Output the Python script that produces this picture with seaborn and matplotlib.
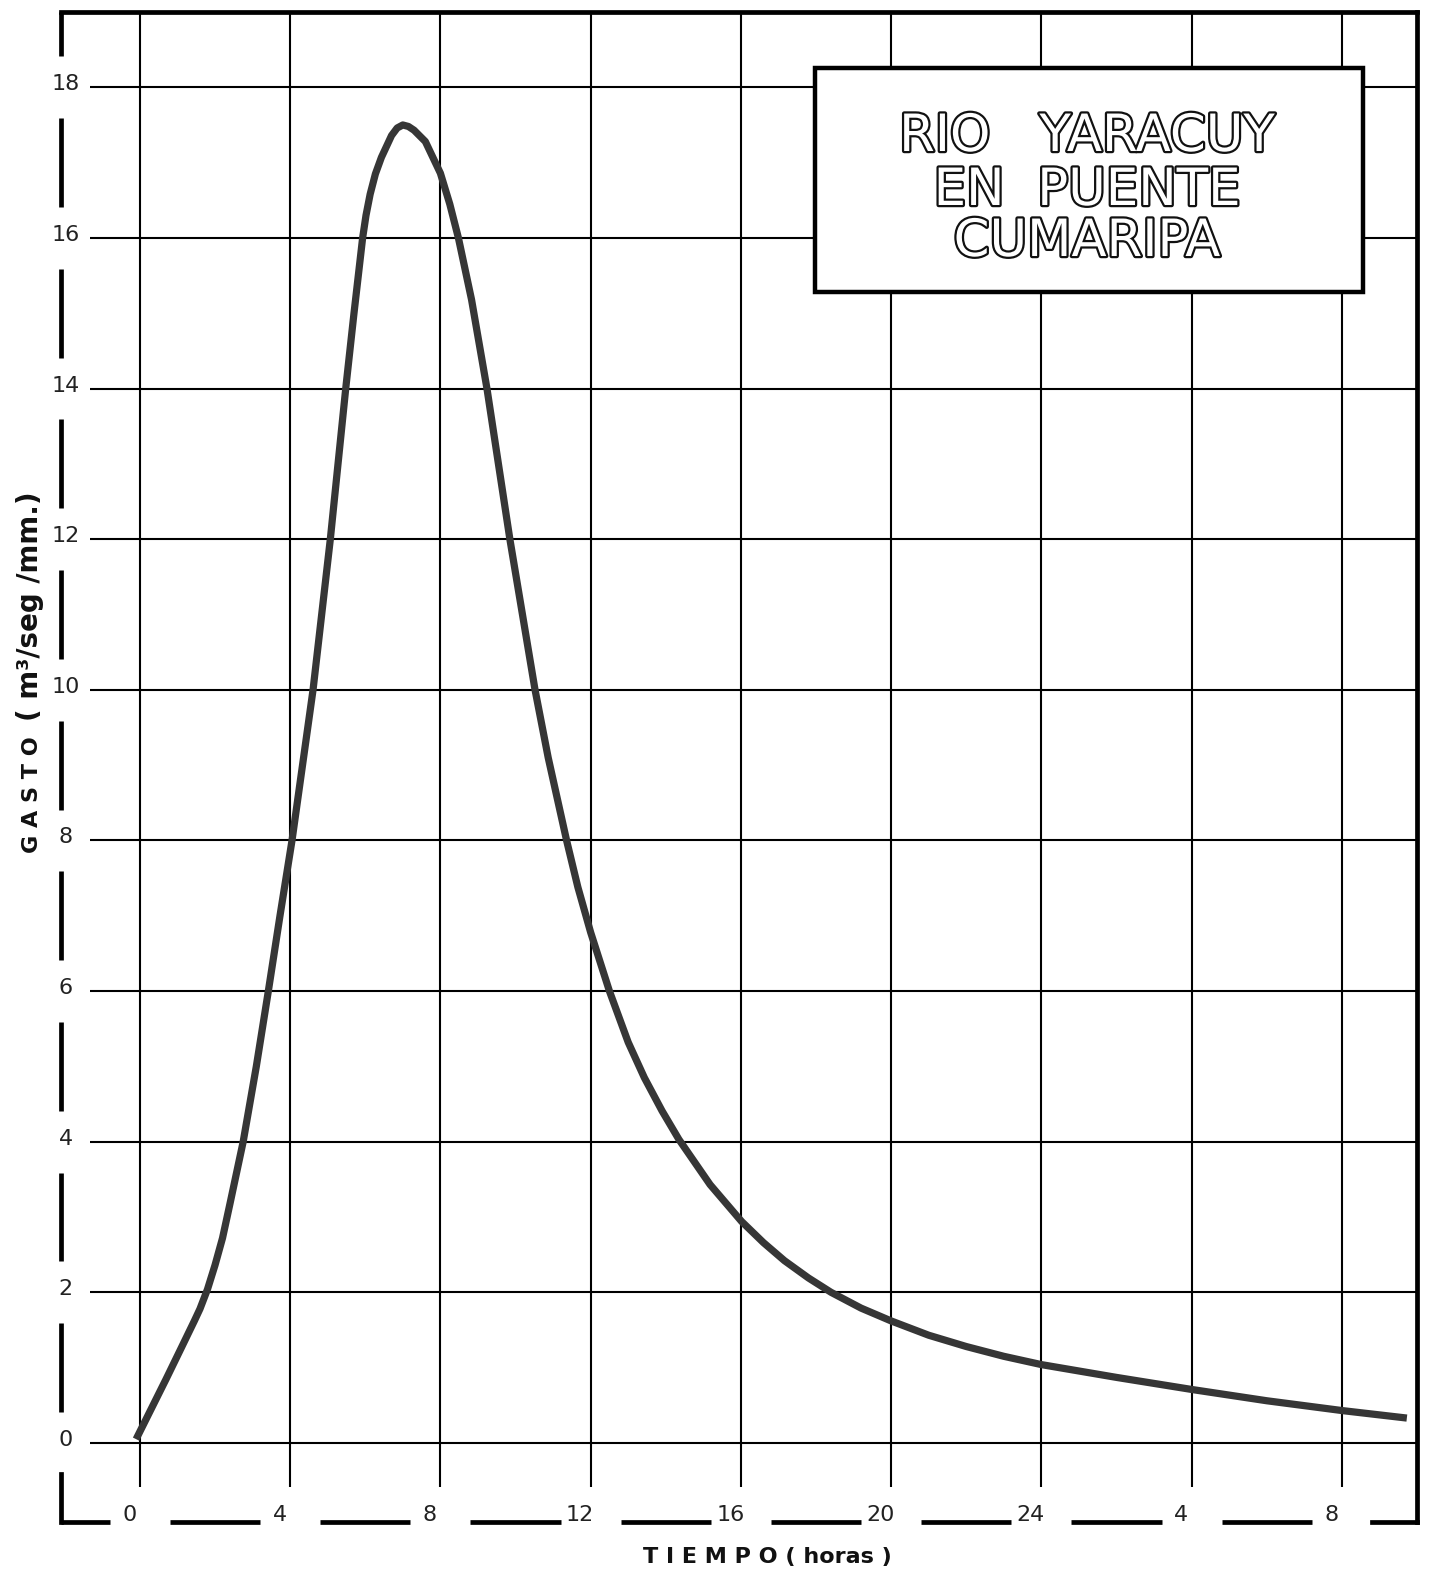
import matplotlib
matplotlib.use("Agg")
import matplotlib.pyplot as plt
import matplotlib.patheffects as pe
from matplotlib.patches import Rectangle
import seaborn as sns

# ---- data ----
hours = [-0.10, 0.30, 0.70, 1.10, 1.45, 1.60, 1.80, 2.00, 2.20, 2.40, 2.75, 3.10, 3.42,
         3.73, 4.05, 4.33, 4.61, 5.07, 5.48, 5.70, 5.93, 6.02, 6.13, 6.27, 6.43,
         6.70, 6.85, 7.00, 7.15, 7.30, 7.60, 8.00, 8.25, 8.48, 8.83, 9.24, 9.85,
         10.52, 10.87, 11.36, 11.66, 12.00, 12.50, 13.00, 13.43, 13.90, 14.35,
         15.18, 16.02, 16.60, 17.16, 17.80, 18.40, 19.20, 20.00, 21.00, 22.00,
         23.00, 24.00, 26.00, 28.00, 30.00, 32.00, 33.73]
gasto = [0.05, 0.45, 0.85, 1.26, 1.62, 1.78, 2.04, 2.36, 2.72, 3.18, 4.00, 5.00, 6.00,
         7.00, 8.00, 9.00, 10.00, 12.00, 14.00, 15.00, 16.00, 16.30, 16.58, 16.85, 17.07,
         17.36, 17.46, 17.50, 17.48, 17.43, 17.28, 16.86, 16.45, 16.00, 15.18, 14.00, 12.00,
         10.00, 9.10, 8.00, 7.38, 6.78, 6.00, 5.32, 4.85, 4.41, 4.03,
         3.43, 2.94, 2.66, 2.42, 2.19, 2.00, 1.79, 1.62, 1.43, 1.28,
         1.15, 1.04, 0.87, 0.71, 0.56, 0.43, 0.33]

x_ticks = [0, 4, 8, 12, 16, 20, 24, 28, 32]
x_tick_labels = ["0", "4", "8", "12", "16", "20", "24", "4", "8"]
y_ticks = [0, 2, 4, 6, 8, 10, 12, 14, 16, 18]
y_tick_labels = ["0", "2", "4", "6", "8", "10", "12", "14", "16", "18"]
title_lines = ["RIO   YARACUY", "EN  PUENTE", "CUMARIPA"]
x_label = "T I E M P O ( horas )"
y_label_name = "G A S T O"
y_label_unit = "( m³/seg /mm.)"

sns.set_style("white")
plt.rcParams['font.family'] = ['DejaVu Sans']

W, H = 1438, 1576
fig = plt.figure(figsize=(W / 100, H / 100), dpi=100)
fig.patch.set_facecolor("white")

L, R, T, B = 61, 1417, 12, 1522
ax = fig.add_axes([L / W, 1 - B / H, (R - L) / W, (B - T) / H])
XMIN, XMAX = -2.10, 34.0
YMIN, YMAX = -1.05, 19.0
ax.set_xlim(XMIN, XMAX)
ax.set_ylim(YMIN, YMAX)
ax.axis("off")

ink = "black"
# grid
ax.hlines(y_ticks, -1.33, XMAX, color=ink, lw=1.5, zorder=1)
ax.vlines(x_ticks, -0.58, YMAX, color=ink, lw=1.5, zorder=1)

# frame: top and right solid
fw = 3.4
ax.plot([XMIN, XMAX], [YMAX, YMAX], color=ink, lw=fw, clip_on=False,
        solid_capstyle="projecting", zorder=4)
ax.plot([XMAX, XMAX], [YMIN, YMAX], color=ink, lw=fw, clip_on=False,
        solid_capstyle="projecting", zorder=4)

# left frame: dashes interrupted at tick labels
gy = 0.41
start = YMAX
for v in sorted(y_ticks, reverse=True):
    ax.plot([XMIN, XMIN], [start, v + gy], color=ink, lw=fw, clip_on=False,
            solid_capstyle="butt", zorder=4)
    start = v - gy
ax.plot([XMIN, XMIN], [start, YMIN], color=ink, lw=fw, clip_on=False,
        solid_capstyle="projecting", zorder=4)

# bottom frame: dashes interrupted at tick labels
gx = 0.80
start = XMIN
for t in x_ticks:
    ax.plot([start, t - gx], [YMIN, YMIN], color=ink, lw=fw, clip_on=False,
            solid_capstyle="butt", zorder=4)
    start = t + gx
ax.plot([start, XMAX], [YMIN, YMIN], color=ink, lw=fw, clip_on=False,
        solid_capstyle="projecting", zorder=4)

# tick labels
for v, lab in zip(y_ticks, y_tick_labels):
    ax.text(XMIN + 0.12, v + 0.04, lab, ha="center", va="center", fontsize=16,
            color="#222222", clip_on=False, zorder=5)
for t, lab in zip(x_ticks, x_tick_labels):
    ax.text(t - 0.28, YMIN + 0.09, lab, ha="center", va="center", fontsize=16,
            color="#222222", clip_on=False, zorder=5)

# the hydrograph
sns.lineplot(x=hours, y=gasto, ax=ax, color="#363636", linewidth=5.2,
             sort=False, estimator=None, zorder=3, solid_capstyle="butt",
             solid_joinstyle="round")

# axis titles
fig.text(38 / W, 1 - 795 / H, y_label_name, rotation=90, rotation_mode="anchor",
         ha="center", va="baseline", fontsize=16, fontweight="bold", color="#111111")
fig.text(38 / W, 1 - 606 / H, y_label_unit, rotation=90, rotation_mode="anchor",
         ha="center", va="baseline", fontsize=20, fontweight="bold", color="#111111")
fig.text(767 / W, 1 - 1557 / H, x_label, ha="center", va="center",
         fontsize=16, fontweight="bold", color="#111111")

# title box
bx0, by0, bx1, by1 = 815, 68, 1363, 292
ax.add_patch(Rectangle((bx0 / W, 1 - by1 / H), (bx1 - bx0) / W, (by1 - by0) / H,
                       transform=fig.transFigure, facecolor="white",
                       edgecolor=ink, lw=3.2, zorder=6, clip_on=False))
baselines = [151, 205, 256]
for line, bl in zip(title_lines, baselines):
    fig.text(1087 / W, 1 - bl / H, line, ha="center", va="baseline",
             fontsize=37, color="white", zorder=7,
             path_effects=[pe.withStroke(linewidth=3.2, foreground="#111111")])

fig.savefig("out.png", dpi=100, facecolor="white")
